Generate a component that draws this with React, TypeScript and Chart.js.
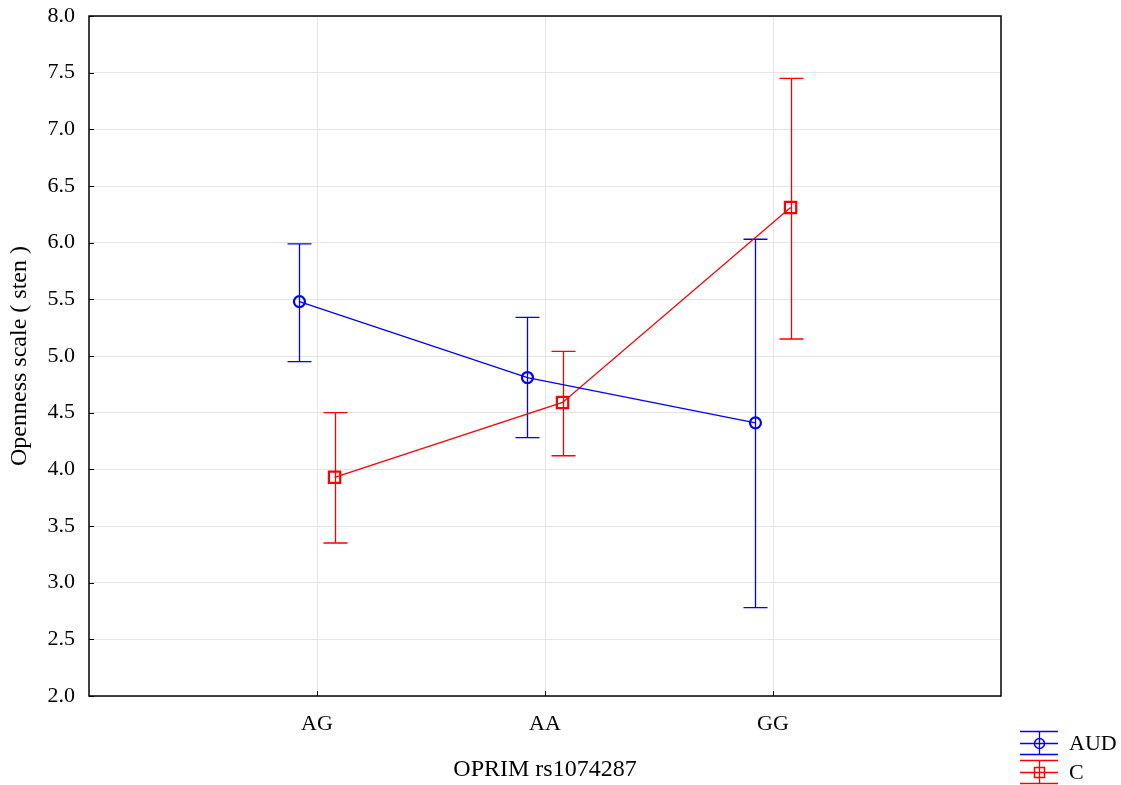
import React, { useEffect, useRef } from "react";
import { Chart, registerables } from "chart.js";

Chart.register(...registerables);

const categories = ["AG", "AA", "GG"];
const seriesNames = ["AUD", "C"];
const audMean = [5.48, 4.81, 4.41];
const audLow = [4.95, 4.28, 2.78];
const audHigh = [5.99, 5.34, 6.03];
const cMean = [3.93, 4.59, 6.31];
const cLow = [3.35, 4.12, 5.15];
const cHigh = [4.5, 5.04, 7.45];
const yTicks = [2.0, 2.5, 3.0, 3.5, 4.0, 4.5, 5.0, 5.5, 6.0, 6.5, 7.0, 7.5, 8.0];

const FONT = "'Liberation Serif', 'Times New Roman', serif";
const OFFSET = 0.077;

export default function App() {
  const ref = useRef<HTMLCanvasElement | null>(null);
  useEffect(() => {
    document.body.style.margin = "0";
    const canvas = ref.current!;
    const errors = [
      { low: audLow, high: audHigh, color: "#0000ff", off: -OFFSET },
      { low: cLow, high: cHigh, color: "#ff0000", off: OFFSET },
    ];
    const plugin = {
      id: "custom",
      beforeDatasetsDraw(chart: any) {
        const ctx = chart.ctx;
        const xs = chart.scales.x;
        const ys = chart.scales.y;
        ctx.save();
        errors.forEach((e) => {
          ctx.strokeStyle = e.color;
          ctx.lineWidth = 1.3;
          categories.forEach((_, i) => {
            const x = Math.round(xs.getPixelForValue(i + 1 + e.off)) + 0.5;
            const y1 = ys.getPixelForValue(e.low[i]);
            const y2 = ys.getPixelForValue(e.high[i]);
            ctx.beginPath();
            ctx.moveTo(x, y1);
            ctx.lineTo(x, y2);
            ctx.moveTo(x - 12, y1);
            ctx.lineTo(x + 12, y1);
            ctx.moveTo(x - 12, y2);
            ctx.lineTo(x + 12, y2);
            ctx.stroke();
          });
        });
        ctx.restore();
      },
      afterDraw(chart: any) {
        const ctx = chart.ctx;
        const a = chart.chartArea;
        const xs = chart.scales.x;
        const ys = chart.scales.y;
        ctx.save();
        // frame
        ctx.strokeStyle = "#000";
        ctx.lineWidth = 1.5;
        ctx.strokeRect(a.left, a.top, a.right - a.left, a.bottom - a.top);
        // inward ticks
        ctx.lineWidth = 1;
        ctx.beginPath();
        yTicks.forEach((v) => {
          const y = Math.round(ys.getPixelForValue(v)) + 0.5;
          ctx.moveTo(a.left, y);
          ctx.lineTo(a.left + 5, y);
        });
        categories.forEach((_, i) => {
          const x = Math.round(xs.getPixelForValue(i + 1)) + 0.5;
          ctx.moveTo(x, a.bottom);
          ctx.lineTo(x, a.bottom - 5);
        });
        ctx.stroke();
        // axis titles
        ctx.fillStyle = "#000";
        ctx.font = `24px ${FONT}`;
        ctx.textAlign = "center";
        ctx.textBaseline = "middle";
        ctx.fillText("OPRIM rs1074287", (a.left + a.right) / 2, 770);
        ctx.save();
        ctx.translate(20, (a.top + a.bottom) / 2);
        ctx.rotate(-Math.PI / 2);
        ctx.fillText("Openness scale ( sten )", 0, 0);
        ctx.restore();
        // legend
        const items = [
          { name: seriesNames[0], color: "#0000ff", cy: 743, marker: "circle" },
          { name: seriesNames[1], color: "#ff0000", cy: 772, marker: "square" },
        ];
        items.forEach((it) => {
          ctx.strokeStyle = it.color;
          ctx.lineWidth = 1.3;
          ctx.beginPath();
          ctx.moveTo(1020, it.cy - 11.5);
          ctx.lineTo(1058, it.cy - 11.5);
          ctx.moveTo(1020, it.cy + 0.5);
          ctx.lineTo(1058, it.cy + 0.5);
          ctx.moveTo(1020, it.cy + 11.5);
          ctx.lineTo(1058, it.cy + 11.5);
          ctx.moveTo(1039.5, it.cy - 11.5);
          ctx.lineTo(1039.5, it.cy + 11.5);
          ctx.stroke();
          ctx.lineWidth = 1.5;
          ctx.beginPath();
          if (it.marker === "circle") {
            ctx.arc(1039.5, it.cy + 0.5, 5, 0, Math.PI * 2);
          } else {
            ctx.rect(1034.5, it.cy - 4.5, 10, 10);
          }
          ctx.stroke();
          ctx.fillStyle = "#000";
          ctx.textAlign = "left";
          ctx.textBaseline = "middle";
          ctx.font = `22px ${FONT}`;
          ctx.fillText(it.name, 1069, it.cy + 1);
        });
        ctx.restore();
      },
    };

    const chart = new Chart(canvas, {
      type: "scatter",
      data: {
        datasets: [
          {
            label: seriesNames[0],
            data: audMean.map((v, i) => ({ x: i + 1 - OFFSET, y: v })),
            showLine: true,
            borderColor: "#0000ff",
            backgroundColor: "rgba(0,0,0,0)",
            borderWidth: 1.3,
            pointStyle: "circle",
            pointRadius: 5.5,
            pointBorderWidth: 2.2,
            pointBorderColor: "#0000ff",
          },
          {
            label: seriesNames[1],
            data: cMean.map((v, i) => ({ x: i + 1 + OFFSET, y: v })),
            showLine: true,
            borderColor: "#ff0000",
            backgroundColor: "rgba(0,0,0,0)",
            borderWidth: 1.3,
            pointStyle: "rect",
            pointRadius: 8,
            pointBorderWidth: 2.2,
            pointBorderColor: "#ff0000",
          },
        ],
      },
      options: {
        animation: false,
        responsive: false,
        maintainAspectRatio: false,
        layout: { padding: { top: 16, right: 120, left: 0, bottom: 0 } },
        plugins: { legend: { display: false }, tooltip: { enabled: false } },
        scales: {
          x: {
            type: "linear",
            min: 0,
            max: 4,
            afterBuildTicks: (s: any) => {
              s.ticks = categories.map((_, i) => ({ value: i + 1 }));
            },
            afterFit: (s: any) => {
              s.height = 89;
              s.paddingLeft = 0;
              s.paddingRight = 0;
            },
            ticks: {
              autoSkip: false,
              maxRotation: 0,
              padding: 17,
              color: "#000",
              font: { family: FONT, size: 22, lineHeight: 1 },
              callback: (v: any) => categories[Number(v) - 1] ?? "",
            },
            grid: { color: "#e4e4e4", lineWidth: 1, drawTicks: false },
            border: { display: false },
          },
          y: {
            type: "linear",
            min: 2,
            max: 8,
            afterBuildTicks: (s: any) => {
              s.ticks = yTicks.map((v) => ({ value: v }));
            },
            afterFit: (s: any) => {
              s.width = 89;
              s.paddingTop = 0;
              s.paddingBottom = 0;
            },
            ticks: {
              padding: 14,
              color: "#000",
              font: { family: FONT, size: 22, lineHeight: 1 },
              callback: (v: any) => Number(v).toFixed(1),
            },
            grid: { color: "#e4e4e4", lineWidth: 1, drawTicks: false },
            border: { display: false },
          },
        },
      },
      plugins: [plugin],
    });
    return () => chart.destroy();
  }, []);
  return (
    <canvas
      ref={ref}
      width={1121}
      height={785}
      style={{ display: "block", width: 1121, height: 785 }}
    />
  );
}
